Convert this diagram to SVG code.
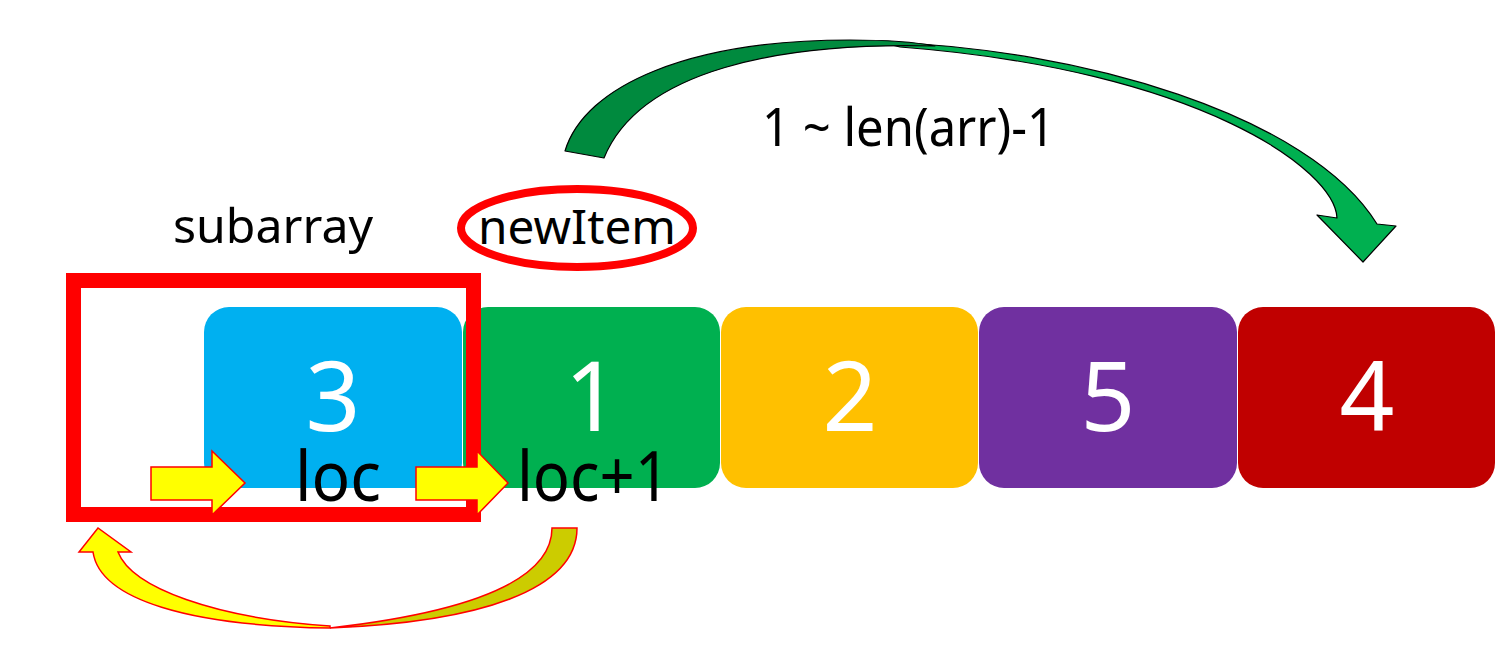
<svg xmlns="http://www.w3.org/2000/svg" width="1510" height="663" viewBox="0 0 1510 663">
<style>
.box{stroke:none}
.num{font-family:"Noto Sans","DejaVu Sans",sans-serif;font-size:96px;fill:#FFFFFF;text-anchor:middle}
.lbl{font-family:"Noto Sans","DejaVu Sans",sans-serif;fill:#000000}
.yarrow{fill:#FFFF00;stroke:#FF0000;stroke-width:1.5;stroke-linejoin:miter}
.garrow{stroke:#000000;stroke-width:1.2;stroke-linejoin:round}
</style>
<rect width="1510" height="663" fill="#FFFFFF"/>
<g id="node-3"><rect class="box" x="204" y="307" width="258" height="181" rx="25" fill="#00B0F0"/><text class="num" x="333" y="431">3</text></g>
<g id="node-1"><rect class="box" x="463" y="307" width="257" height="181" rx="25" fill="#00B050"/><text class="num" x="592" y="431">1</text></g>
<g id="node-2"><rect class="box" x="721" y="307" width="257" height="181" rx="25" fill="#FFC000"/><text class="num" x="850" y="431">2</text></g>
<g id="node-5"><rect class="box" x="979" y="307" width="258" height="181" rx="25" fill="#7030A0"/><text class="num" x="1108" y="431">5</text></g>
<g id="node-4"><rect class="box" x="1238" y="307" width="257" height="181" rx="25" fill="#C00000"/><text class="num" x="1367" y="431">4</text></g>
<g id="subarray-frame"><rect x="73.5" y="280.5" width="400" height="234" fill="none" stroke="#FF0000" stroke-width="15"/></g>
<g id="newItem-ellipse"><ellipse cx="577" cy="228" rx="116" ry="39" fill="none" stroke="#FF0000" stroke-width="8"/></g>
<g id="connectors">
<path class="garrow" fill="#00B050" d="M880,42 C1080,48 1310,115 1377,224 L1396,226 L1363,262 L1317,215 L1337,218 C1335,170 1200,70 900,47 Z"/>
<path class="garrow" fill="#008A3E" d="M565,151 C585,85 690,40 850,40 C890,40 915,42 935,46 C780,42 640,70 604,158 Z"/>
<path class="yarrow" d="M151,467 L212,467 L212,451 L245,483 L212,515 L212,500 L151,500 Z"/>
<path class="yarrow" d="M416,467 L477,467 L477,451 L508,483 L477,515 L477,500 L416,500 Z"/>
<path class="yarrow" style="fill:#CCCC00" d="M552,528 L577,528 C577,590 480,622 330,628 C470,612 552,580 552,528 Z"/>
<path class="yarrow" d="M330,628 C190,626 100,600 93,552 L79,552 L98,528 L131,552 L118,552 C132,588 215,618 330,626 Z"/>
</g>
<g id="labels">
<text class="lbl" x="762" y="146" font-size="53" textLength="293" lengthAdjust="spacingAndGlyphs">1 ~ len(arr)-1</text>
<text class="lbl" x="173" y="243" font-size="48" textLength="200" lengthAdjust="spacingAndGlyphs">subarray</text>
<text class="lbl" x="478" y="244" font-size="48" textLength="198" lengthAdjust="spacingAndGlyphs">newItem</text>
<text class="lbl" x="295" y="501" font-size="70" textLength="86" lengthAdjust="spacingAndGlyphs">loc</text>
<text class="lbl" x="517" y="501" font-size="70" textLength="153" lengthAdjust="spacingAndGlyphs">loc+1</text>
</g>
</svg>
